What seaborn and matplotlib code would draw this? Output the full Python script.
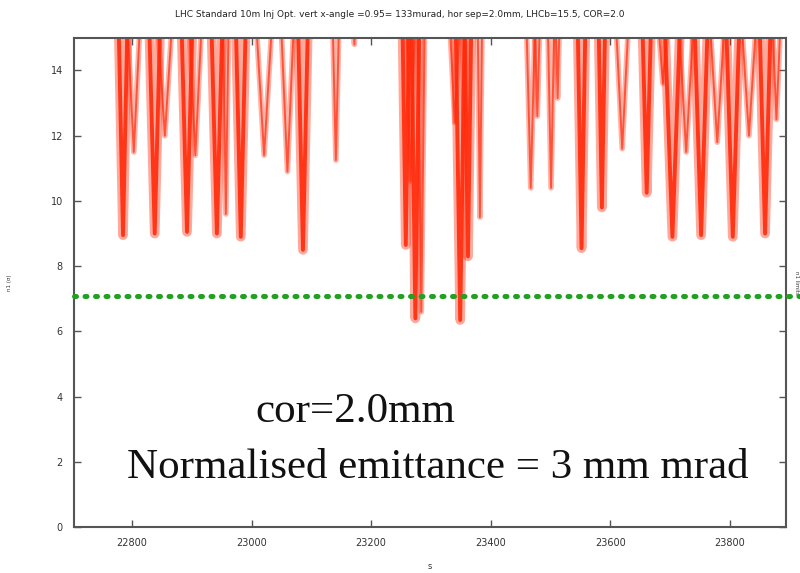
import numpy as np
import pandas as pd
import matplotlib
matplotlib.use("Agg")
import matplotlib.pyplot as plt
import seaborn as sns

# aperture dips: centre s [m], minimum [sigma], half width [m]
main_s = [22785, 22838, 22892, 22942, 22982, 23086, 23258, 23274, 23349, 23362,
          23552, 23586, 23661, 23704, 23752, 23805, 23859]
main_min = [8.95, 9.0, 9.05, 9.0, 8.9, 8.5, 8.65, 6.4, 6.35, 8.3,
            8.55, 9.8, 10.25, 8.9, 8.95, 8.9, 9.0]
main_hw = [8, 10, 10, 10, 9, 9, 6, 7, 8, 6, 7, 6, 8, 14, 12, 12, 10]

sec_s = [22803, 22855, 22906, 22957, 23021, 23060, 23141, 23266, 23284, 23340,
         23382, 23467, 23478, 23501, 23512, 23620, 23688, 23727, 23779, 23832,
         23878, 23172]
sec_min = [11.5, 12.0, 11.4, 9.6, 11.4, 10.9, 11.25, 10.6, 6.6, 12.4,
           9.5, 10.4, 12.6, 10.4, 13.15, 11.6, 13.6, 11.5, 11.8, 12.0,
           12.5, 14.8]
sec_hw = [12, 14, 12, 5, 15, 12, 6, 8, 6, 10, 4, 8, 5, 6, 4, 12, 10, 14, 14, 14, 8, 3]

limit = 7.1
top = 16.0

title = ("LHC Standard 10m Inj Opt. vert x-angle =0.95= 133murad, "
         "hor sep=2.0mm, LHCb=15.5, COR=2.0")


def dips_frame(s, mn, hw):
    rows = []
    for i, (c, m, w) in enumerate(zip(s, mn, hw)):
        rows.append((i, c - w, top))
        rows.append((i, c, m))
        rows.append((i, c + w, top))
    return pd.DataFrame(rows, columns=["dip", "s", "aper"])


main_df = dips_frame(main_s, main_min, main_hw)
sec_df = dips_frame(sec_s, sec_min, sec_hw)

sns.set_theme(style="white")
fig = plt.figure(figsize=(8, 5.73), dpi=100)
ax = fig.add_axes([0.0925, 0.08, 0.8900, 0.854])

red = "#ff2a0a"
sns.lineplot(data=sec_df, x="s", y="aper", units="dip", estimator=None, sort=False,
             color=red, alpha=0.35, lw=4, ax=ax)
sns.lineplot(data=main_df, x="s", y="aper", units="dip", estimator=None, sort=False,
             color=red, alpha=0.4, lw=7, ax=ax)
sns.lineplot(data=main_df, x="s", y="aper", units="dip", estimator=None, sort=False,
             color=red, alpha=0.9, lw=2.8, ax=ax)
sns.lineplot(data=sec_df, x="s", y="aper", units="dip", estimator=None, sort=False,
             color=red, alpha=0.7, lw=1.4, ax=ax)

ax.axhline(limit, xmin=0, xmax=1.02, color="#22a022", ls=(0, (0.4, 1.7)),
           lw=3.6, dash_capstyle="round", clip_on=False, zorder=5)

ax.set_xlim(22703, 23894)
ax.set_ylim(0, 15)
ax.set_xticks(np.arange(22800, 23801, 200))
ax.set_yticks(np.arange(0, 15, 2))
ax.tick_params(direction="in", length=5, width=1, colors="#555555",
               labelcolor="#333333", labelsize=7, top=True, right=True,
               bottom=True, left=True, pad=8)
for sp in ax.spines.values():
    sp.set_color("#555555")
    sp.set_linewidth(1.5)

ax.set_xlabel("s", fontsize=6, labelpad=10, color="#333333")
ax.set_ylabel("n1 (σ)", fontsize=4, labelpad=28, color="#333333")
ax.text(1.015, 0.5, "n1 limits", transform=ax.transAxes, rotation=-90,
        fontsize=4, va="center", ha="center", color="#333333")
fig.suptitle(title, fontsize=6.5, y=0.982, color="#222222")

ax.text(0.255, 0.215, "cor=2.0mm", transform=ax.transAxes,
        fontsize=31, family="Liberation Serif", color="#111111")
ax.text(0.075, 0.10, "Normalised emittance = 3 mm mrad", transform=ax.transAxes,
        fontsize=31, family="Liberation Serif", color="#111111")

fig.savefig("out.png", dpi=100)
